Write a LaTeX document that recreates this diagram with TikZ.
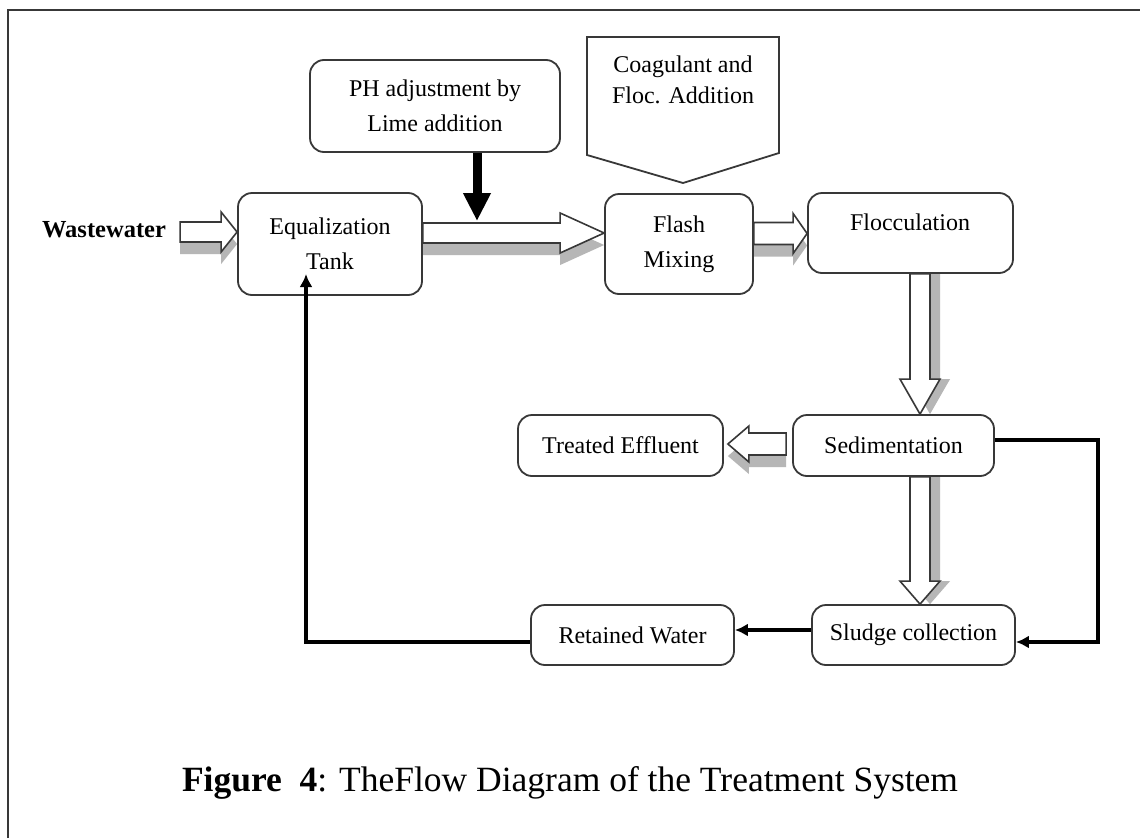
\documentclass[tikz,border=0pt]{standalone}
\usepackage{fontspec}
\setmainfont{Liberation Serif}
\usetikzlibrary{arrows.meta,calc}

\definecolor{edge}{HTML}{383838}
\definecolor{shadowc}{HTML}{B6B6B6}

\tikzset{
  box/.style={draw=edge, line width=1.8pt, rounded corners=14pt, fill=white, inner sep=0pt, align=center, font=\fontsize{24}{35}\selectfont},
  txt/.style={inner sep=0pt, align=center, font=\fontsize{24}{35}\selectfont},
  hollow/.style={draw=edge, line width=1.6pt, fill=white, line join=miter},
  shadowfill/.style={fill=shadowc},
  blk/.style={draw=black, line width=3.5pt, -{Latex[length=13pt,width=13pt]}},
}

% horizontal block arrow: from, to, y, half shaft, half head, head length (signed)
\newcommand\HBlkPath[7]{%
  \path[#7] let \p1=(#1), \p2=(#2) in
    (\x1,#3pt+#4pt) -- ({\x2-(#6pt)},#3pt+#4pt) -- ({\x2-(#6pt)},#3pt+#5pt) -- (\x2,#3pt)
    -- ({\x2-(#6pt)},#3pt-#5pt) -- ({\x2-(#6pt)},#3pt-#4pt) -- (\x1,#3pt-#4pt) -- cycle;}
\newcommand\HBlkArrow[6]{%
  \begin{scope}[shift={(10pt,-12pt)}]\HBlkPath{#1}{#2}{#3}{#4}{#5}{#6}{shadowfill}\end{scope}
  \HBlkPath{#1}{#2}{#3}{#4}{#5}{#6}{hollow}}
% vertical (downward) block arrow: from, to, x, half shaft, half head, head length
\newcommand\VBlkPath[7]{%
  \path[#7] let \p1=(#1), \p2=(#2) in
    (#3pt-#4pt,\y1) -- (#3pt-#4pt,{\y2+#6pt}) -- (#3pt-#5pt,{\y2+#6pt}) -- (#3pt,\y2)
    -- (#3pt+#5pt,{\y2+#6pt}) -- (#3pt+#4pt,{\y2+#6pt}) -- (#3pt+#4pt,\y1) -- cycle;}
\newcommand\VBlkArrow[6]{%
  \begin{scope}[shift={(10pt,-12pt)}]\VBlkPath{#1}{#2}{#3}{#4}{#5}{#6}{shadowfill}\end{scope}
  \VBlkPath{#1}{#2}{#3}{#4}{#5}{#6}{hollow}}

\begin{document}
\begin{tikzpicture}[x=1pt,y=1pt]
\useasboundingbox (0,0) rectangle (1140,-838);
\fill[white] (0,0) rectangle (1140,-838);
\draw[edge, line width=2.5pt] (8,-838) -- (8,-10) -- (1140,-10);

% node placement (boxes drawn after arrows)
\path
  (104,-230) node[txt, font=\fontsize{24.5}{29}\selectfont\bfseries] (ww) {Wastewater}
  (330,-244) coordinate (eqc)
  (679,-244) coordinate (flc)
  (910.5,-233) coordinate (flocc)
  (893.5,-445.5) coordinate (sedc)
  (620.5,-445.5) coordinate (tec)
  (913.5,-635) coordinate (slc)
  (632.5,-635) coordinate (retc);

\node[box, minimum width=184pt, minimum height=102pt, draw=none, fill=none] (eq) at (eqc) {};
\node[box, minimum width=148pt, minimum height=100pt, draw=none, fill=none] (flash) at (flc) {};
\node[box, minimum width=205pt, minimum height=80pt, draw=none, fill=none] (floc) at (flocc) {};
\node[box, minimum width=201pt, minimum height=61pt, draw=none, fill=none] (sed) at (sedc) {};
\node[box, minimum width=205pt, minimum height=61pt, draw=none, fill=none] (te) at (tec) {};
\node[box, minimum width=203pt, minimum height=60pt, draw=none, fill=none] (sludge) at (slc) {};

% block arrows with shadows
\HBlkArrow{[xshift=14pt]ww.east}{eq.west}{-232}{10}{20}{16}
\HBlkArrow{eq.east}{flash.west}{-233}{10}{20}{44}
\HBlkArrow{flash.east}{floc.west}{-233.5}{11}{20}{14}
\VBlkArrow{floc.south}{sed.north}{920}{10}{20}{35}
\HBlkArrow{[xshift=-6pt]sed.west}{[xshift=4pt]te.east}{-444}{11}{18}{-21}
\VBlkArrow{sed.south}{sludge.north}{920}{10}{20}{23}

% boxes
\node[box, minimum width=184pt, minimum height=102pt] (eqbox) at (eqc) {Equalization\\Tank};
\node[box, minimum width=250pt, minimum height=92pt] (ph) at (435,-106) {PH adjustment by\\Lime addition};
\draw[draw=edge, line width=1.8pt, fill=white, line join=miter]
  (587,-37) -- (779,-37) -- (779,-153) -- (683,-183) -- (587,-155) -- cycle;
\node[txt, font=\fontsize{24}{31}\selectfont] (coag) at (683,-80) {Coagulant and\\Floc. Addition};
\node[box, minimum width=148pt, minimum height=100pt] (flashbox) at (flc) {Flash\\Mixing};
\node[box, minimum width=205pt, minimum height=80pt] (flocbox) at (flocc) {};
\node[txt] (floct) at (910,-222) {Flocculation};
\node[box, minimum width=201pt, minimum height=61pt] (sedbox) at (sedc) {Sedimentation};
\node[box, minimum width=205pt, minimum height=61pt] (tebox) at (tec) {Treated Effluent};
\node[box, minimum width=203pt, minimum height=60pt] (slbox) at (slc) {Sludge collection};
\node[box, minimum width=203pt, minimum height=60pt] (ret) at (retc) {Retained Water};

% black connectors
\coordinate (limeIn) at (477,-221);
\draw[line width=9pt, -{Triangle[length=28pt,width=26pt]}] (limeIn |- ph.south) -- (limeIn);
\draw[blk] ([yshift=5.5pt]sedbox.east) -- ++(103,0) |- ([yshift=-7pt]slbox.east);
\draw[blk] ([yshift=5pt]slbox.west) -- ([yshift=5pt]ret.east);
\coordinate (eqIn) at (306,-274);
\draw[blk] ([yshift=-7pt]ret.west) -| (eqIn);

% caption
\node[inner sep=0pt, font=\fontsize{35.5}{42}\selectfont] (cap) at (570,-783)
  {\textbf{Figure\ \ 4}: TheFlow Diagram of the Treatment System};
\end{tikzpicture}
\end{document}
